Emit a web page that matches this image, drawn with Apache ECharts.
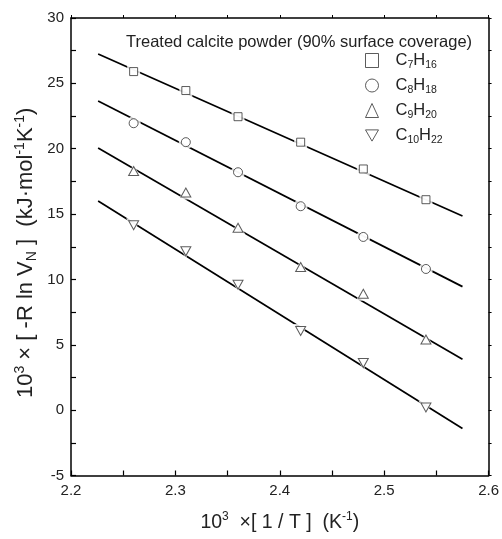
<!DOCTYPE html>
<html>
<head>
<meta charset="utf-8">
<script src="https://cdn.jsdelivr.net/npm/echarts@6/dist/echarts.min.js"></script>
<style>
html,body{margin:0;padding:0;background:#fff;overflow:hidden;}
#chart{width:502px;height:539px;}
</style>
</head>
<body>
<div id="chart"></div>
<script>
// ---- data ----
const invT = [2.26, 2.31, 2.36, 2.42, 2.48, 2.54];
const seriesNames = ['C7H16', 'C8H18', 'C9H20', 'C10H22'];
const c7 = [25.9, 24.45, 22.45, 20.5, 18.45, 16.1];
const c8 = [21.95, 20.5, 18.2, 15.6, 13.25, 10.8];
const c9 = [18.3, 16.65, 13.95, 10.95, 8.9, 5.4];
const c10 = [14.15, 12.15, 9.6, 6.05, 3.6, 0.2];
const fitX = [2.226, 2.575];
const fit7 = [27.25, 14.85];
const fit8 = [23.65, 9.45];
const fit9 = [20.05, 3.9];
const fit10 = [16.0, -1.4];
const xTickLabels = ['2.2', '2.3', '2.4', '2.5', '2.6'];
const yTickLabels = ['-5', '0', '5', '10', '15', '20', '25', '30'];
const legendTitle = 'Treated calcite powder (90% surface coverage)';
const yTitle = '{a|10}{p|3}{a| × [ -R ln V}{s|N}{a| ]  (kJ·mol}{p|-1}{a|K}{p|-1}{a|)}';
const xTitle = '{a|10}{p|3}{a|  ×[ 1 / T ]  (K}{p|-1}{a|)}';

const values = [c7, c8, c9, c10];
const fits = [fit7, fit8, fit9, fit10];
const symbols = ['rect', 'circle', 'triangle', 'path://M0,0L20,0L10,17.3Z'];
const symSizes = [[8, 8], [9, 9], [10, 9], [10, 9]];

const FONT = '"Liberation Sans", Arial, Helvetica, sans-serif';
const TXT = '#222';

function pairs(xs, ys) { return xs.map((x, i) => [x, ys[i]]); }

const series = [];
values.forEach((v, i) => {
  series.push({
    type: 'line', name: 'fit' + i, data: pairs(fitX, fits[i]),
    showSymbol: false, symbol: 'none', silent: true, z: 2,
    lineStyle: { color: '#000', width: 1.7 }
  });
});
values.forEach((v, i) => {
  series.push({
    type: 'scatter', name: 'halo' + i, data: pairs(invT, v), silent: true, z: 3,
    symbol: symbols[i], symbolSize: [symSizes[i][0] + 5, symSizes[i][1] + 5],
    itemStyle: { color: '#fff', borderWidth: 0 }
  });
});
values.forEach((v, i) => {
  series.push({
    type: 'scatter', name: seriesNames[i], data: pairs(invT, v), z: 4,
    symbol: symbols[i], symbolSize: symSizes[i],
    itemStyle: { color: '#fff', borderColor: '#333', borderWidth: 1 }
  });
});

function chem(name) {
  return name.replace(/([A-Z])(\d+)/g, '{n|$1}{s|$2}');
}

const axisLineStyle = { color: '#000', width: 1.5 };

const chart = echarts.init(document.getElementById('chart'), null, { renderer: 'canvas' });
chart.setOption({
  animation: false,
  backgroundColor: '#fff',
  textStyle: { fontFamily: FONT, color: TXT },
  title: {
    text: legendTitle, left: 126, top: 34, padding: 0,
    textStyle: { fontFamily: FONT, fontSize: 16.5, fontWeight: 'normal', color: TXT }
  },
  legend: {
    orient: 'vertical', left: 365, top: 50, itemGap: 4, padding: 0,
    itemWidth: 13, itemHeight: 14,
    data: seriesNames.map((n, i) => ({ name: n, icon: symbols[i] })),
    itemStyle: { color: '#fff', borderColor: '#333', borderWidth: 1 },
    formatter: chem,
    textStyle: {
      fontFamily: FONT, color: TXT, padding: [0, 0, 0, 12],
      rich: {
        n: { fontFamily: FONT, fontSize: 16.5, color: TXT, lineHeight: 20 },
        s: { fontFamily: FONT, fontSize: 10.5, color: TXT, lineHeight: 10, padding: [10, 0, 0, 0] }
      }
    }
  },
  graphic: [{
    type: 'text', x: 26, y: 398, rotation: Math.PI / 2, silent: true,
    style: {
      text: yTitle, align: 'left', verticalAlign: 'middle',
      fontFamily: FONT, fontSize: 22, fill: TXT,
      rich: {
        a: { fontFamily: FONT, fontSize: 22, fill: TXT, lineHeight: 24 },
        p: { fontFamily: FONT, fontSize: 14, fill: TXT, lineHeight: 12, padding: [0, 0, 12, 0] },
        s: { fontFamily: FONT, fontSize: 14, fill: TXT, lineHeight: 12, padding: [12, 0, 0, 0] }
      }
    }
  }],
  grid: { left: 71, width: 419, top: 18, height: 464, containLabel: false },
  xAxis: [{
    type: 'value', min: 2.2, max: 2.6, interval: 0.05, position: 'bottom',
    axisLine: { show: true, onZero: false, lineStyle: axisLineStyle },
    axisTick: { show: true, inside: true, length: 5, lineStyle: { color: '#000', width: 1.2 } },
    splitLine: { show: false },
    axisLabel: {
      margin: 8, fontFamily: FONT, fontSize: 15, color: TXT,
      formatter: v => { const s = v.toFixed(1); return (Math.abs(v * 10 - Math.round(v * 10)) < 1e-6 && xTickLabels.includes(s)) ? s : ''; }
    },
    name: xTitle,
    nameLocation: 'middle', nameGap: 36,
    nameTextStyle: {
      rich: {
        a: { fontFamily: FONT, fontSize: 19.5, color: TXT, lineHeight: 22 },
        p: { fontFamily: FONT, fontSize: 12, color: TXT, lineHeight: 10, padding: [0, 0, 11, 0] }
      }
    }
  }, {
    type: 'value', min: 2.2, max: 2.6, interval: 0.05, position: 'top',
    axisLine: { show: true, onZero: false, lineStyle: axisLineStyle },
    axisTick: { show: true, inside: false, length: 3, lineStyle: { color: '#000', width: 1 } },
    axisLabel: { show: false }, splitLine: { show: false }
  }],
  yAxis: [{
    type: 'value', min: -5, max: 30, interval: 2.5, position: 'left',
    axisLine: { show: true, onZero: false, lineStyle: axisLineStyle },
    axisTick: { show: true, inside: true, length: 5, lineStyle: { color: '#000', width: 1.2 } },
    splitLine: { show: false },
    axisLabel: {
      margin: 7, fontFamily: FONT, fontSize: 15, color: TXT,
      formatter: v => { const s = String(Math.round(v)); return (Math.abs(v / 5 - Math.round(v / 5)) < 1e-6 && yTickLabels.includes(s)) ? s : ''; }
    }
  }, {
    type: 'value', min: -5, max: 30, interval: 2.5, position: 'right',
    axisLine: { show: true, onZero: false, lineStyle: axisLineStyle },
    axisTick: { show: true, inside: false, length: 3, lineStyle: { color: '#000', width: 1 } },
    axisLabel: { show: false }, splitLine: { show: false }
  }],
  series: series
});
</script>
</body>
</html>
